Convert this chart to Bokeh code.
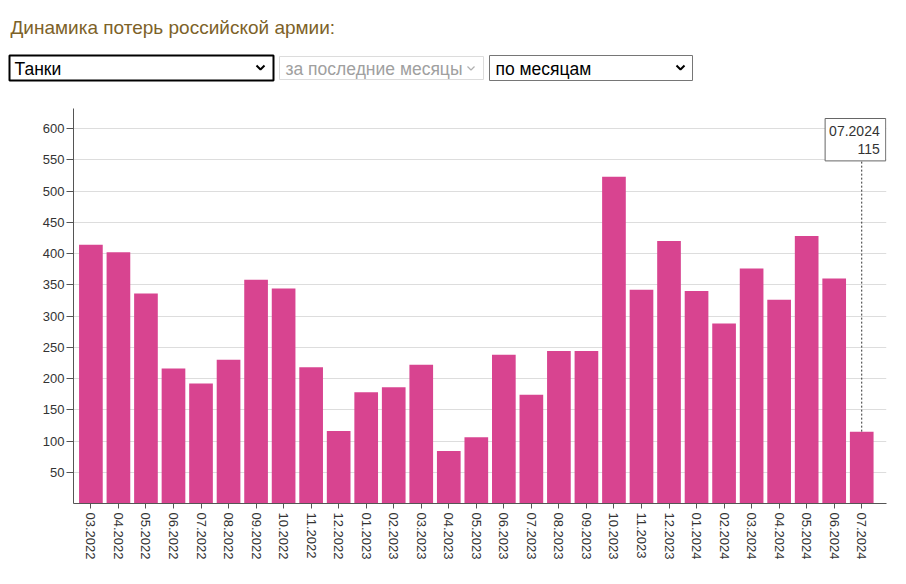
from bokeh.plotting import figure
from bokeh.models import Range1d, FixedTicker, Label
from bokeh.layouts import column
from bokeh.core.properties import value
from bokeh.embed import file_html
from bokeh.resources import INLINE

# ---- data ----
months = ["03.2022", "04.2022", "05.2022", "06.2022", "07.2022", "08.2022", "09.2022",
          "10.2022", "11.2022", "12.2022", "01.2023", "02.2023", "03.2023", "04.2023",
          "05.2023", "06.2023", "07.2023", "08.2023", "09.2023", "10.2023", "11.2023",
          "12.2023", "01.2024", "02.2024", "03.2024", "04.2024", "05.2024", "06.2024",
          "07.2024"]
tanks = [414, 402, 336, 216, 192, 230, 358, 344, 218, 116, 178, 186, 222, 84, 106,
         238, 174, 244, 244, 523, 342, 420, 340, 288, 376, 326, 428, 360, 115]
y_ticks = [50, 100, 150, 200, 250, 300, 350, 400, 450, 500, 550, 600]

title_text = "Динамика потерь российской армии:"
select_texts = ["Танки", "за последние месяцы", "по месяцам"]

FONT = "Liberation Sans"
idx = list(range(len(months)))

# ---- header (title + select boxes) ----
h = figure(width=906, height=100, x_range=Range1d(0, 906), y_range=Range1d(100, 0),
           output_backend="svg", toolbar_location=None, min_border=0)
h.frame_align = False
h.axis.visible = False
h.grid.visible = False
h.outline_line_color = None

h.text(x=[10], y=[27], text=[title_text], text_font=value(FONT), text_font_size="19px",
       text_color="#7d6228", text_baseline="alphabetic", text_align="left")

# select boxes
h.quad(left=[9], right=[273], top=[55], bottom=[80], fill_color="white",
       line_color="black", line_width=2)
h.quad(left=[279], right=[483], top=[56], bottom=[79], fill_color="white",
       line_color="#dcdcdc", line_width=1)
h.quad(left=[489], right=[692], top=[55], bottom=[80], fill_color="white",
       line_color="#767676", line_width=1)

h.text(x=[14, 285, 495], y=[68.5, 68.5, 68.5], text=select_texts, text_font=value(FONT),
       text_font_size="17.5px", text_color=["black", "#a0a0a0", "black"],
       text_baseline="middle", text_align="left")

h.line(x=[256, 260, 264], y=[65, 69, 65], line_color="black", line_width=2)
h.line(x=[467, 470.5, 474], y=[66, 69.5, 66], line_color="#b0b0b0", line_width=1.2)
h.line(x=[676, 680, 684], y=[65, 69, 65], line_color="black", line_width=2)

# ---- chart ----
p = figure(width=906, height=484, x_range=Range1d(-0.632, 28.9), y_range=Range1d(0, 632),
           output_backend="svg", toolbar_location=None,
           min_border_left=73, min_border_right=20, min_border_top=8, min_border_bottom=81)
p.frame_align = False
p.outline_line_color = None
p.xgrid.grid_line_color = None
p.ygrid.grid_line_color = "#dddddd"
p.ygrid.ticker = FixedTicker(ticks=y_ticks)

p.vbar(x=idx, top=tanks, width=0.86, fill_color="#d84490", line_color=None)

p.yaxis.ticker = FixedTicker(ticks=y_ticks)
p.yaxis.minor_tick_line_color = None
p.yaxis.major_tick_out = 7
p.yaxis.major_tick_in = 0
p.yaxis.major_label_standoff = 2
p.xaxis.ticker = FixedTicker(ticks=idx)
p.xaxis.major_label_overrides = {i: m for i, m in zip(idx, months)}
p.xaxis.minor_tick_line_color = None
p.xaxis.major_tick_out = 5
p.xaxis.major_tick_in = 0
p.xaxis.major_label_standoff = 4
p.xaxis.major_label_orientation = "vertical"
for ax in (p.xaxis, p.yaxis):
    ax.axis_line_color = "#555555"
    ax.major_tick_line_color = "#555555"
    ax.major_label_text_font = FONT
    ax.major_label_text_font_size = "13px"
    ax.major_label_text_color = "#333333"

# tooltip for the last month
last_i, last_m, last_v = idx[-1], months[-1], tanks[-1]
p.segment(x0=[last_i], y0=[last_v], x1=[last_i], y1=[549], line_color="#333333",
          line_width=1, line_dash="2 2")
tip = Label(x=last_i, y=616, x_offset=24, text=f"{last_m}\n{last_v}",
            text_align="right", text_baseline="top", text_font=FONT,
            text_font_size="14px", text_color="#333333", text_line_height=1.15,
            background_fill_color="white", border_line_color="#666666",
            border_line_width=1, padding=dict(left=4, right=6, top=4, bottom=4))
p.add_layout(tip)

layout = column(h, p, spacing=0)
open("out.html", "w").write(file_html(layout, INLINE))
